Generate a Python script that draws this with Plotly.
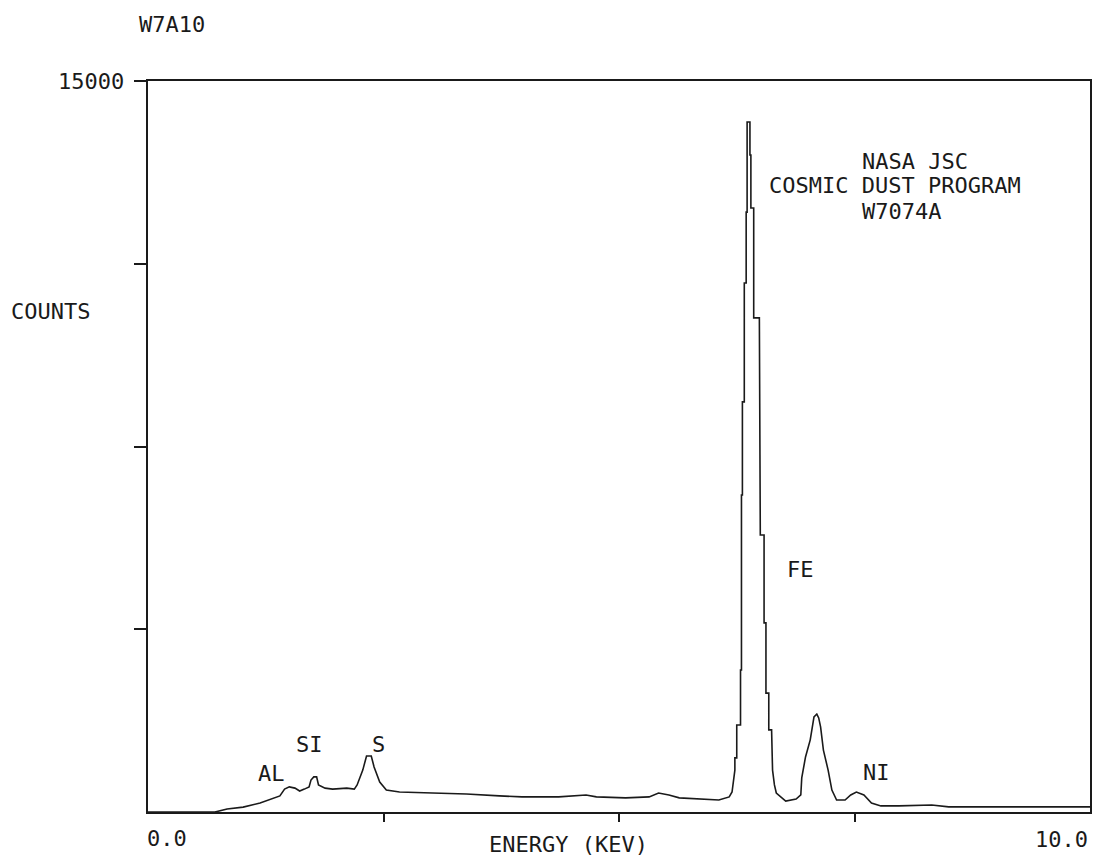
import plotly.graph_objects as go

# EDS spectrum (energy in keV, counts)
energy = [0.00, 0.71, 0.84, 1.01, 1.19, 1.32, 1.40, 1.45, 1.50, 1.56, 1.61, 1.66, 1.71, 1.73,
          1.76, 1.79, 1.81, 1.88, 1.96, 2.11, 2.19, 2.22, 2.28, 2.32, 2.37, 2.40, 2.46, 2.53,
          2.67, 3.02, 3.38, 3.73, 3.97, 4.36, 4.65, 4.76, 5.07, 5.32, 5.42, 5.53, 5.64, 6.06,
          6.17, 6.20, 6.22, 6.23, 6.23, 6.25, 6.25, 6.29, 6.29, 6.30, 6.30, 6.31, 6.31, 6.33,
          6.33, 6.35, 6.35, 6.36, 6.36, 6.39, 6.39, 6.40, 6.40, 6.43, 6.43, 6.49, 6.50, 6.54,
          6.54, 6.56, 6.56, 6.59, 6.59, 6.62, 6.63, 6.65, 6.67, 6.77, 6.88, 6.93, 6.94, 6.98,
          7.03, 7.07, 7.10, 7.12, 7.14, 7.17, 7.22, 7.26, 7.31, 7.40, 7.46, 7.52, 7.60, 7.68,
          7.78, 7.97, 8.32, 8.50, 9.03, 9.74, 10.00]
counts = [0, 0, 60, 100, 185, 265, 330, 470, 515, 490, 430, 470, 515, 655,
          720, 720, 555, 490, 470, 490, 470, 555, 860, 1150, 1150, 925, 615, 450,
          410, 390, 370, 330, 310, 310, 350, 310, 290, 310, 390, 350, 290, 245,
          310, 410, 655, 860, 1110, 1110, 1785, 1785, 2915, 2915, 6505, 6505, 8415, 8415,
          10855, 10855, 12310, 12310, 14160, 14160, 13480, 13480, 12395, 12395, 10140, 10140, 5685, 5685,
          3880, 3880, 2440, 2440, 1685, 1685, 860, 555, 390, 225, 265, 350, 700, 1130,
          1480, 1950, 2010, 1930, 1745, 1270, 860, 450, 245, 245, 350, 410, 350, 185,
          125, 125, 145, 105, 105, 105, 105]

# peak labels
peak_names = ["AL", "SI", "S", "FE", "NI"]
peak_x = [1.31, 1.71, 2.45, 6.93, 7.73]
peak_y = [800, 1395, 1395, 4985, 820]

ytick_vals = [3750, 7500, 11250, 15000]
ytick_text = ["", "", "", ""]
xtick_vals = [2.5, 5.0, 7.5]

FONT = "DejaVu Sans Mono"
INK = "#1a1a1a"

fig = go.Figure()
fig.add_trace(go.Scatter(x=energy, y=counts, mode="lines",
                         line=dict(color=INK, width=1.6), hoverinfo="skip"))

for name, px, py in zip(peak_names, peak_x, peak_y):
    fig.add_annotation(x=px, y=py, text=name, showarrow=False,
                       xanchor="center", yanchor="middle")

# info block
fig.add_annotation(x=7.56, y=13340, text="NASA JSC", showarrow=False, xanchor="left", yanchor="middle")
fig.add_annotation(x=6.57, y=12850, text="COSMIC DUST PROGRAM", showarrow=False, xanchor="left", yanchor="middle")
fig.add_annotation(x=7.56, y=12330, text="W7074A", showarrow=False, xanchor="left", yanchor="middle")

# axis texts
fig.add_annotation(xref="paper", yref="paper", x=0.025, y=1.077, text="W7A10", showarrow=False,
                   xanchor="center", yanchor="middle")
fig.add_annotation(xref="paper", yref="y", x=0, y=15000, text="15000", showarrow=False,
                   xanchor="right", yanchor="middle", xshift=-22)
fig.add_annotation(xref="paper", yref="paper", x=-0.103, y=0.685, text="COUNTS", showarrow=False,
                   xanchor="center", yanchor="middle")
fig.add_annotation(xref="paper", yref="paper", x=-0.003, y=-0.036, text="0.0", showarrow=False,
                   xanchor="left", yanchor="middle")
fig.add_annotation(xref="paper", yref="paper", x=1.0, y=-0.037, text="10.0", showarrow=False,
                   xanchor="right", yanchor="middle")
fig.add_annotation(xref="paper", yref="paper", x=0.446, y=-0.045, text="ENERGY (KEV)", showarrow=False,
                   xanchor="center", yanchor="middle")

fig.update_layout(
    width=1098, height=859,
    margin=dict(l=148, r=6, t=81, b=47),
    paper_bgcolor="white", plot_bgcolor="white",
    showlegend=False,
    font=dict(family=FONT, size=22, color=INK),
    xaxis=dict(range=[0, 10], showgrid=False, zeroline=False,
               showline=True, mirror=True, linecolor=INK, linewidth=1.5,
               tickvals=xtick_vals, ticktext=["", "", ""], ticks="outside",
               ticklen=8, tickwidth=1.5, tickcolor=INK),
    yaxis=dict(range=[0, 15000], showgrid=False, zeroline=False,
               showline=True, mirror=True, linecolor=INK, linewidth=1.5,
               tickvals=ytick_vals, ticktext=ytick_text, ticks="outside",
               ticklen=12, tickwidth=1.5, tickcolor=INK),
)

# drop the browser's default 8px body margin so the figure fills the window
fig.write_html("out.html", config={"displayModeBar": False},
               post_script="document.body.style.margin='0';")
